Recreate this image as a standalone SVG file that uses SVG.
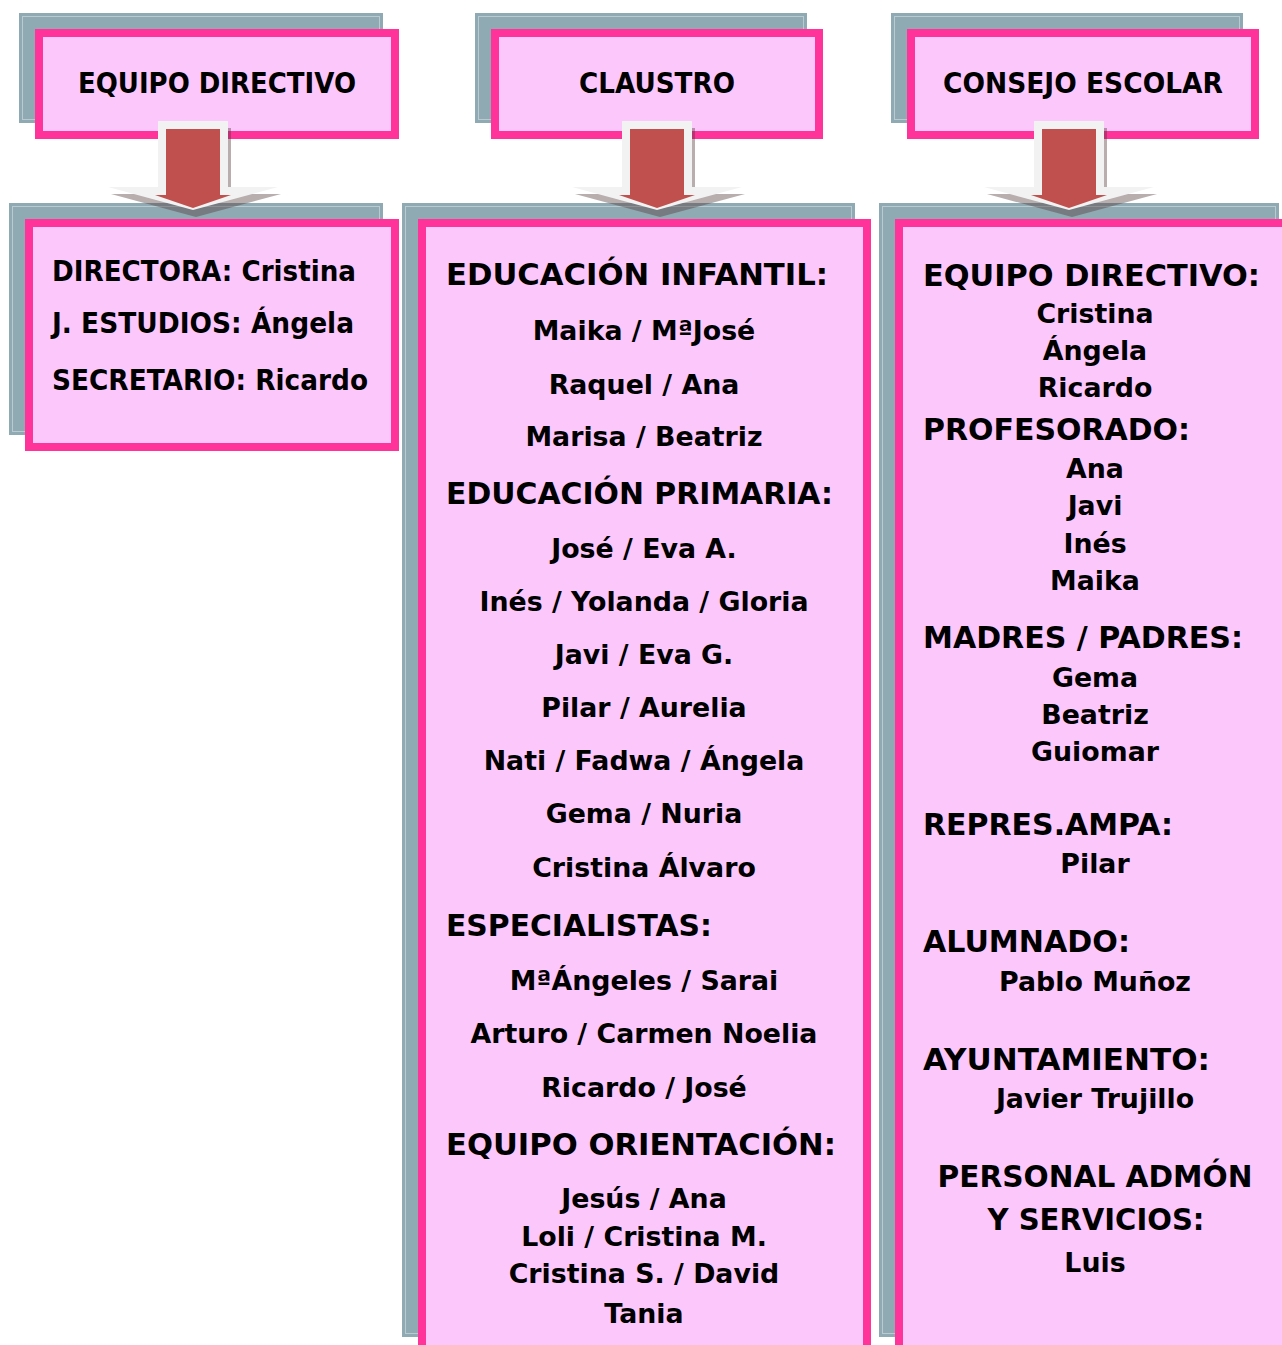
<svg xmlns="http://www.w3.org/2000/svg" width="1282" height="1345" viewBox="0 0 1282 1345">
<style>
.bk{fill:#8FAAB2;}
.bkl{fill:none;stroke:#B9CBD0;stroke-width:1;}
.pk{fill:#FCC8FC;stroke:#FF3399;stroke-width:8;}
text{font-family:"DejaVu Sans","Liberation Sans",sans-serif;font-weight:bold;fill:#000;}
.hd{font-size:28.5px;text-anchor:middle;}
.lf{font-size:29px;}
.h2{font-size:30.5px;}
.nm{font-size:26.8px;text-anchor:middle;}
</style>
<defs>
<g id="arrow">
<polygon points="-35,121 35,121 35,187 85,187 0,210 -85,187 -35,187" fill="#4d3535" opacity="0.4" transform="translate(3,7)"/>
<polygon points="-35,121 35,121 35,187 85,187 0,210 -85,187 -35,187" fill="#F2F2F2"/>
<polygon points="-27,129 27,129 27,195 38,195 0,208 -38,195 -27,195" fill="#C0504D"/>
</g>
</defs>

<g id="node-equipo-directivo">
<rect class="bk" x="19" y="13" width="364" height="110"/>
<rect class="bkl" x="22.5" y="16.5" width="357" height="103"/>
<rect class="pk" x="39" y="33" width="356" height="102"/>
<text class="hd" x="217" y="93" textLength="278" lengthAdjust="spacingAndGlyphs">EQUIPO DIRECTIVO</text>
</g>
<g id="node-claustro">
<rect class="bk" x="475" y="13" width="332" height="110"/>
<rect class="bkl" x="478.5" y="16.5" width="325" height="103"/>
<rect class="pk" x="495" y="33" width="324" height="102"/>
<text class="hd" x="657" y="93" textLength="156" lengthAdjust="spacingAndGlyphs">CLAUSTRO</text>
</g>
<g id="node-consejo-escolar">
<rect class="bk" x="891" y="13" width="352" height="110"/>
<rect class="bkl" x="894.5" y="16.5" width="345" height="103"/>
<rect class="pk" x="911" y="33" width="344" height="102"/>
<text class="hd" x="1083" y="93" textLength="280" lengthAdjust="spacingAndGlyphs">CONSEJO ESCOLAR</text>
</g>

<g id="node-directivo-members">
<rect class="bk" x="9" y="203" width="374" height="232"/>
<rect class="bkl" x="12.5" y="206.5" width="367" height="225"/>
<rect class="pk" x="29" y="223" width="366" height="224"/>
<text class="lf" x="52" y="281" textLength="304" lengthAdjust="spacingAndGlyphs">DIRECTORA: Cristina</text>
<text class="lf" x="52" y="333" textLength="302" lengthAdjust="spacingAndGlyphs">J. ESTUDIOS: Ángela</text>
<text class="lf" x="52" y="390" textLength="316" lengthAdjust="spacingAndGlyphs">SECRETARIO: Ricardo</text>
</g>

<g id="node-claustro-members">
<rect class="bk" x="402" y="203" width="453" height="1134"/>
<rect class="bkl" x="405.5" y="206.5" width="446" height="1127"/>
<rect class="pk" x="422" y="223" width="445" height="1140"/>
<text class="h2" x="446" y="285" textLength="382" lengthAdjust="spacingAndGlyphs">EDUCACIÓN INFANTIL:</text>
<text class="nm" x="644" y="340">Maika / MªJosé</text>
<text class="nm" x="644" y="394">Raquel / Ana</text>
<text class="nm" x="644" y="446">Marisa / Beatriz</text>
<text class="h2" x="446" y="504" textLength="387" lengthAdjust="spacingAndGlyphs">EDUCACIÓN PRIMARIA:</text>
<text class="nm" x="644" y="558">José / Eva A.</text>
<text class="nm" x="644" y="611">Inés / Yolanda / Gloria</text>
<text class="nm" x="644" y="664">Javi / Eva G.</text>
<text class="nm" x="644" y="717">Pilar / Aurelia</text>
<text class="nm" x="644" y="770">Nati / Fadwa / Ángela</text>
<text class="nm" x="644" y="823">Gema / Nuria</text>
<text class="nm" x="644" y="877">Cristina Álvaro</text>
<text class="h2" x="446" y="936" textLength="266" lengthAdjust="spacingAndGlyphs">ESPECIALISTAS:</text>
<text class="nm" x="644" y="990">MªÁngeles / Sarai</text>
<text class="nm" x="644" y="1043">Arturo / Carmen Noelia</text>
<text class="nm" x="644" y="1097">Ricardo / José</text>
<text class="h2" x="446" y="1155" textLength="390" lengthAdjust="spacingAndGlyphs">EQUIPO ORIENTACIÓN:</text>
<text class="nm" x="644" y="1208">Jesús / Ana</text>
<text class="nm" x="644" y="1246">Loli / Cristina M.</text>
<text class="nm" x="644" y="1283">Cristina S. / David</text>
<text class="nm" x="644" y="1323">Tania</text>
</g>

<g id="node-consejo-members">
<rect class="bk" x="879" y="203" width="400" height="1134"/>
<rect class="bkl" x="882.5" y="206.5" width="393" height="1127"/>
<rect class="pk" x="899" y="223" width="392" height="1140"/>
<text class="h2" x="923" y="286" textLength="337" lengthAdjust="spacingAndGlyphs">EQUIPO DIRECTIVO:</text>
<text class="nm" x="1095" y="323">Cristina</text>
<text class="nm" x="1095" y="360">Ángela</text>
<text class="nm" x="1095" y="397">Ricardo</text>
<text class="h2" x="923" y="440" textLength="267" lengthAdjust="spacingAndGlyphs">PROFESORADO:</text>
<text class="nm" x="1095" y="478">Ana</text>
<text class="nm" x="1095" y="515">Javi</text>
<text class="nm" x="1095" y="553">Inés</text>
<text class="nm" x="1095" y="590">Maika</text>
<text class="h2" x="923" y="648" textLength="320" lengthAdjust="spacingAndGlyphs">MADRES / PADRES:</text>
<text class="nm" x="1095" y="687">Gema</text>
<text class="nm" x="1095" y="724">Beatriz</text>
<text class="nm" x="1095" y="761">Guiomar</text>
<text class="h2" x="923" y="835" textLength="250" lengthAdjust="spacingAndGlyphs">REPRES.AMPA:</text>
<text class="nm" x="1095" y="873">Pilar</text>
<text class="h2" x="923" y="952" textLength="207" lengthAdjust="spacingAndGlyphs">ALUMNADO:</text>
<text class="nm" x="1095" y="991">Pablo Muñoz</text>
<text class="h2" x="923" y="1070" textLength="287" lengthAdjust="spacingAndGlyphs">AYUNTAMIENTO:</text>
<text class="nm" x="1095" y="1108">Javier Trujillo</text>
<text class="h2" x="1095" y="1187" text-anchor="middle" textLength="315" lengthAdjust="spacingAndGlyphs">PERSONAL ADMÓN</text>
<text class="h2" x="1096" y="1230" text-anchor="middle" textLength="217" lengthAdjust="spacingAndGlyphs">Y SERVICIOS:</text>
<text class="nm" x="1095" y="1272">Luis</text>
</g>

<g id="connectors">
<use href="#arrow" x="193" y="0"/>
<use href="#arrow" x="657" y="0"/>
<use href="#arrow" x="1069" y="0"/>
</g>
</svg>
